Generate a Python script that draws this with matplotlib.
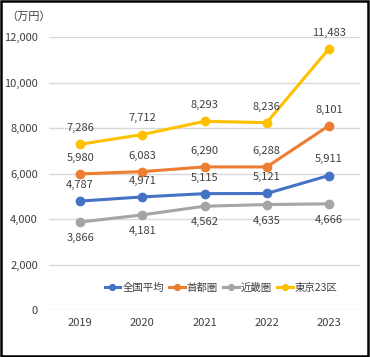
import matplotlib.pyplot as plt
from matplotlib.patches import Rectangle
from matplotlib.ticker import FuncFormatter

plt.rcParams['font.family'] = ['Noto Sans CJK JP', 'DejaVu Sans']

years = ["2019", "2020", "2021", "2022", "2023"]
zenkoku = [4787, 4971, 5115, 5121, 5911]
shutoken = [5980, 6083, 6290, 6288, 8101]
kinki = [3866, 4181, 4562, 4635, 4666]
tokyo23 = [7286, 7712, 8293, 8236, 11483]

series = [
    ("全国平均", zenkoku, "#4472C4", "above"),
    ("首都圏", shutoken, "#ED7D31", "above"),
    ("近畿圏", kinki, "#A5A5A5", "below"),
    ("東京23区", tokyo23, "#FFC000", "above"),
]

fig = plt.figure(figsize=(3.7, 3.57), dpi=100)
ax = fig.add_axes([49 / 370, 1 - 310 / 357, 311 / 370, 273 / 357])

x = list(range(len(years)))
for name, vals, color, pos in series:
    ax.plot(x, vals, color=color, linewidth=2.2, marker="o", markersize=6, label=name)
    for xi, v in zip(x, vals):
        dy = 8 if pos == "above" else -8
        ax.annotate(f"{v:,}", (xi, v), xytext=(0, dy), textcoords="offset points",
                    ha="center", va="bottom" if pos == "above" else "top",
                    fontsize=8, color="#404040")

ax.set_xlim(-0.5, len(years) - 0.5)
ax.set_ylim(0, 12000)
ax.set_yticks(range(0, 12001, 2000))
ax.yaxis.set_major_formatter(FuncFormatter(lambda v, p: f"{int(v):,}"))
ax.set_xticks(x)
ax.set_xticklabels(years)
ax.tick_params(length=0, labelsize=8, labelcolor="#404040")
ax.tick_params(axis="y", pad=8)
ax.tick_params(axis="x", pad=6)
ax.grid(axis="y", color="#D9D9D9", linewidth=1)
ax.set_axisbelow(True)
for s in ax.spines.values():
    s.set_visible(False)

fig.text(6 / 370, 1 - 17 / 357, "（万円）", fontsize=8, color="#404040", va="center", ha="left")

ax.legend(loc="center", bbox_to_anchor=(221 / 370, 1 - 288 / 357),
          bbox_transform=fig.transFigure, ncol=4, frameon=False, fontsize=7.5,
          handlelength=1.5, handletextpad=0.2, columnspacing=0.5, labelcolor="#404040",
          markerscale=0.7)

fig.patches.append(Rectangle((0.003, 0.004), 0.992, 0.992, transform=fig.transFigure,
                             fill=False, edgecolor="black", linewidth=1.8))

fig.savefig("out.png", dpi=100)
